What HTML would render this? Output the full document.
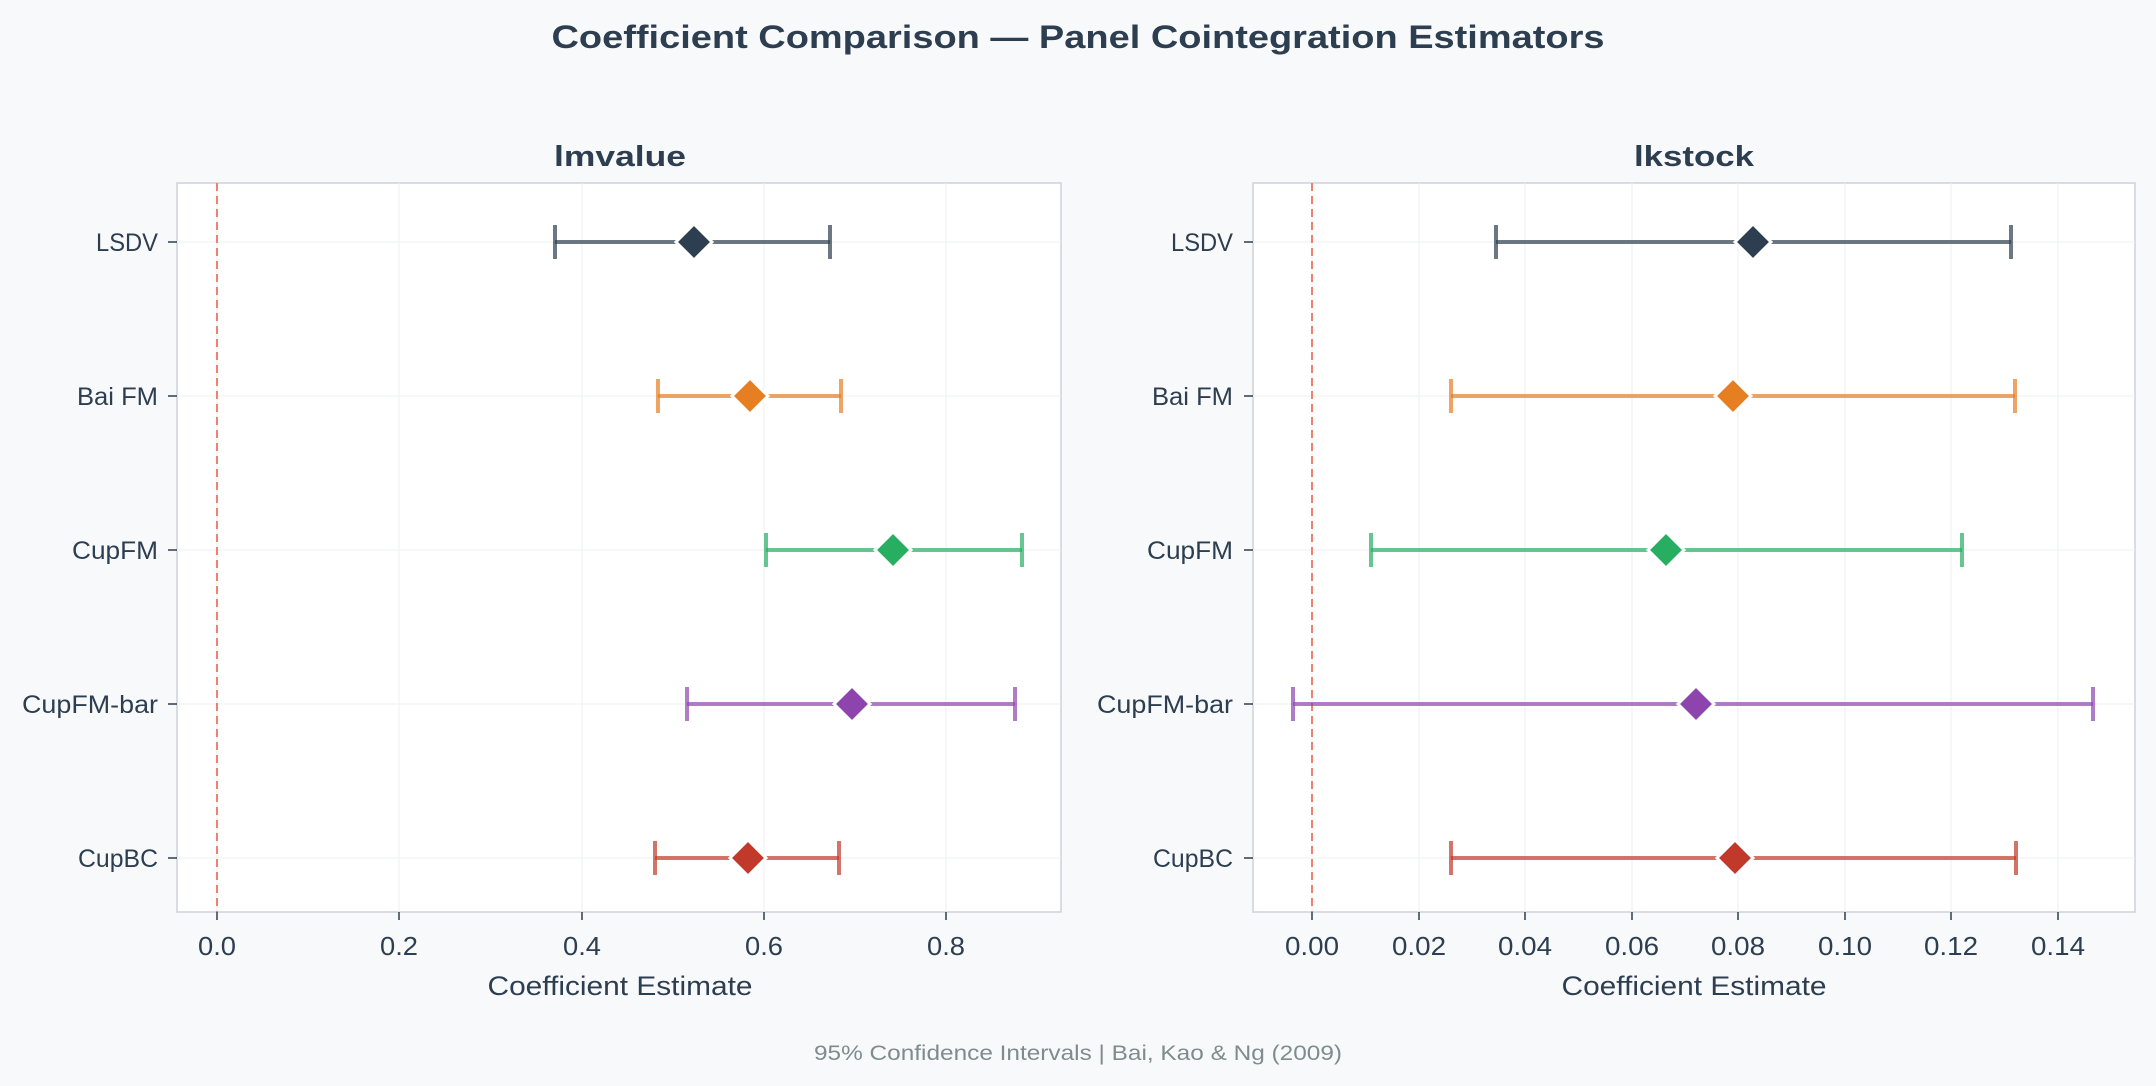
<!DOCTYPE html>
<html><head><meta charset="utf-8"><style>
html,body{margin:0;padding:0;background:#f8f9fb;}
svg{display:block;font-family:"Liberation Sans",sans-serif;}
</style></head><body>
<svg width="2156" height="1086" viewBox="0 0 2156 1086" xmlns="http://www.w3.org/2000/svg">
<rect width="2156" height="1086" fill="#f8f9fb"/>
<text x="1078" y="48" text-anchor="middle" font-size="32" font-weight="bold" fill="#2c3e50" textLength="1053" lengthAdjust="spacingAndGlyphs">Coefficient Comparison — Panel Cointegration Estimators</text>

<!-- LEFT PANEL -->
<g>
<rect x="177" y="183" width="884" height="729" fill="#ffffff" stroke="#cdd2da" stroke-width="1.5"/>
<g stroke="#eef0f2" stroke-width="1">
<line x1="217" y1="183" x2="217" y2="912"/><line x1="399" y1="183" x2="399" y2="912"/><line x1="582" y1="183" x2="582" y2="912"/><line x1="764" y1="183" x2="764" y2="912"/><line x1="946" y1="183" x2="946" y2="912"/>
<line x1="177" y1="242" x2="1061" y2="242"/><line x1="177" y1="396" x2="1061" y2="396"/><line x1="177" y1="550" x2="1061" y2="550"/><line x1="177" y1="704" x2="1061" y2="704"/><line x1="177" y1="858" x2="1061" y2="858"/>
</g>
<line x1="217" y1="183" x2="217" y2="912" stroke="#f08070" stroke-width="2" stroke-dasharray="8,5"/>
<text x="620" y="166" text-anchor="middle" font-size="29" font-weight="bold" fill="#2c3e50" textLength="132" lengthAdjust="spacingAndGlyphs">lmvalue</text>
<g font-size="25" fill="#2c3e50" text-anchor="end">
<text x="158" y="251" textLength="62" lengthAdjust="spacingAndGlyphs">LSDV</text><text x="158" y="405" textLength="81" lengthAdjust="spacingAndGlyphs">Bai FM</text><text x="158" y="559" textLength="86" lengthAdjust="spacingAndGlyphs">CupFM</text><text x="158" y="713" textLength="136" lengthAdjust="spacingAndGlyphs">CupFM-bar</text><text x="158" y="867" textLength="80" lengthAdjust="spacingAndGlyphs">CupBC</text>
</g>
<g stroke="#2c3e50" stroke-width="1.5"><line x1="168" y1="242" x2="177" y2="242"/><line x1="168" y1="396" x2="177" y2="396"/><line x1="168" y1="550" x2="177" y2="550"/><line x1="168" y1="704" x2="177" y2="704"/><line x1="168" y1="858" x2="177" y2="858"/>
<line x1="217" y1="912" x2="217" y2="920"/><line x1="399" y1="912" x2="399" y2="920"/><line x1="582" y1="912" x2="582" y2="920"/><line x1="764" y1="912" x2="764" y2="920"/><line x1="946" y1="912" x2="946" y2="920"/></g>
<g font-size="26" fill="#2c3e50" text-anchor="middle">
<text x="217" y="955" textLength="38" lengthAdjust="spacingAndGlyphs">0.0</text><text x="399" y="955" textLength="38" lengthAdjust="spacingAndGlyphs">0.2</text><text x="582" y="955" textLength="38" lengthAdjust="spacingAndGlyphs">0.4</text><text x="764" y="955" textLength="38" lengthAdjust="spacingAndGlyphs">0.6</text><text x="946" y="955" textLength="38" lengthAdjust="spacingAndGlyphs">0.8</text>
</g>
<text x="620" y="995" text-anchor="middle" font-size="27" fill="#2c3e50" textLength="265" lengthAdjust="spacingAndGlyphs">Coefficient Estimate</text>
<g stroke-width="4" stroke-opacity="0.7">
<g stroke="#2c3e50"><line x1="555" y1="242" x2="830" y2="242"/><line x1="555" y1="225" x2="555" y2="259"/><line x1="830" y1="225" x2="830" y2="259"/></g>
<g stroke="#e67e22"><line x1="658" y1="396" x2="841" y2="396"/><line x1="658" y1="379" x2="658" y2="413"/><line x1="841" y1="379" x2="841" y2="413"/></g>
<g stroke="#27ae60"><line x1="766" y1="550" x2="1022" y2="550"/><line x1="766" y1="533" x2="766" y2="567"/><line x1="1022" y1="533" x2="1022" y2="567"/></g>
<g stroke="#8e44ad"><line x1="687" y1="704" x2="1015" y2="704"/><line x1="687" y1="687" x2="687" y2="721"/><line x1="1015" y1="687" x2="1015" y2="721"/></g>
<g stroke="#c0392b"><line x1="655" y1="858" x2="839" y2="858"/><line x1="655" y1="841" x2="655" y2="875"/><line x1="839" y1="841" x2="839" y2="875"/></g>
</g>
<g stroke="#fff" stroke-width="3">
<polygon points="694,224 712,242 694,260 676,242" fill="#2c3e50"/>
<polygon points="750,378 768,396 750,414 732,396" fill="#e67e22"/>
<polygon points="893,532 911,550 893,568 875,550" fill="#27ae60"/>
<polygon points="852,686 870,704 852,722 834,704" fill="#8e44ad"/>
<polygon points="748,840 766,858 748,876 730,858" fill="#c0392b"/>
</g>
</g>

<!-- RIGHT PANEL -->
<g>
<rect x="1253" y="183" width="882" height="729" fill="#ffffff" stroke="#cdd2da" stroke-width="1.5"/>
<g stroke="#eef0f2" stroke-width="1">
<line x1="1312" y1="183" x2="1312" y2="912"/><line x1="1419" y1="183" x2="1419" y2="912"/><line x1="1525" y1="183" x2="1525" y2="912"/><line x1="1632" y1="183" x2="1632" y2="912"/><line x1="1738" y1="183" x2="1738" y2="912"/><line x1="1845" y1="183" x2="1845" y2="912"/><line x1="1951" y1="183" x2="1951" y2="912"/><line x1="2058" y1="183" x2="2058" y2="912"/>
<line x1="1253" y1="242" x2="2135" y2="242"/><line x1="1253" y1="396" x2="2135" y2="396"/><line x1="1253" y1="550" x2="2135" y2="550"/><line x1="1253" y1="704" x2="2135" y2="704"/><line x1="1253" y1="858" x2="2135" y2="858"/>
</g>
<line x1="1312" y1="183" x2="1312" y2="912" stroke="#f08070" stroke-width="2" stroke-dasharray="8,5"/>
<text x="1694" y="166" text-anchor="middle" font-size="29" font-weight="bold" fill="#2c3e50" textLength="120" lengthAdjust="spacingAndGlyphs">lkstock</text>
<g font-size="25" fill="#2c3e50" text-anchor="end">
<text x="1233" y="251" textLength="62" lengthAdjust="spacingAndGlyphs">LSDV</text><text x="1233" y="405" textLength="81" lengthAdjust="spacingAndGlyphs">Bai FM</text><text x="1233" y="559" textLength="86" lengthAdjust="spacingAndGlyphs">CupFM</text><text x="1233" y="713" textLength="136" lengthAdjust="spacingAndGlyphs">CupFM-bar</text><text x="1233" y="867" textLength="80" lengthAdjust="spacingAndGlyphs">CupBC</text>
</g>
<g stroke="#2c3e50" stroke-width="1.5"><line x1="1244" y1="242" x2="1253" y2="242"/><line x1="1244" y1="396" x2="1253" y2="396"/><line x1="1244" y1="550" x2="1253" y2="550"/><line x1="1244" y1="704" x2="1253" y2="704"/><line x1="1244" y1="858" x2="1253" y2="858"/>
<line x1="1312" y1="912" x2="1312" y2="920"/><line x1="1419" y1="912" x2="1419" y2="920"/><line x1="1525" y1="912" x2="1525" y2="920"/><line x1="1632" y1="912" x2="1632" y2="920"/><line x1="1738" y1="912" x2="1738" y2="920"/><line x1="1845" y1="912" x2="1845" y2="920"/><line x1="1951" y1="912" x2="1951" y2="920"/><line x1="2058" y1="912" x2="2058" y2="920"/></g>
<g font-size="26" fill="#2c3e50" text-anchor="middle">
<text x="1312" y="955" textLength="54" lengthAdjust="spacingAndGlyphs">0.00</text><text x="1419" y="955" textLength="54" lengthAdjust="spacingAndGlyphs">0.02</text><text x="1525" y="955" textLength="54" lengthAdjust="spacingAndGlyphs">0.04</text><text x="1632" y="955" textLength="54" lengthAdjust="spacingAndGlyphs">0.06</text><text x="1738" y="955" textLength="54" lengthAdjust="spacingAndGlyphs">0.08</text><text x="1845" y="955" textLength="54" lengthAdjust="spacingAndGlyphs">0.10</text><text x="1951" y="955" textLength="54" lengthAdjust="spacingAndGlyphs">0.12</text><text x="2058" y="955" textLength="54" lengthAdjust="spacingAndGlyphs">0.14</text>
</g>
<text x="1694" y="995" text-anchor="middle" font-size="27" fill="#2c3e50" textLength="265" lengthAdjust="spacingAndGlyphs">Coefficient Estimate</text>
<g stroke-width="4" stroke-opacity="0.7">
<g stroke="#2c3e50"><line x1="1496" y1="242" x2="2011" y2="242"/><line x1="1496" y1="225" x2="1496" y2="259"/><line x1="2011" y1="225" x2="2011" y2="259"/></g>
<g stroke="#e67e22"><line x1="1451" y1="396" x2="2015" y2="396"/><line x1="1451" y1="379" x2="1451" y2="413"/><line x1="2015" y1="379" x2="2015" y2="413"/></g>
<g stroke="#27ae60"><line x1="1371" y1="550" x2="1962" y2="550"/><line x1="1371" y1="533" x2="1371" y2="567"/><line x1="1962" y1="533" x2="1962" y2="567"/></g>
<g stroke="#8e44ad"><line x1="1293" y1="704" x2="2093" y2="704"/><line x1="1293" y1="687" x2="1293" y2="721"/><line x1="2093" y1="687" x2="2093" y2="721"/></g>
<g stroke="#c0392b"><line x1="1451" y1="858" x2="2016" y2="858"/><line x1="1451" y1="841" x2="1451" y2="875"/><line x1="2016" y1="841" x2="2016" y2="875"/></g>
</g>
<g stroke="#fff" stroke-width="3">
<polygon points="1753,224 1771,242 1753,260 1735,242" fill="#2c3e50"/>
<polygon points="1733,378 1751,396 1733,414 1715,396" fill="#e67e22"/>
<polygon points="1666,532 1684,550 1666,568 1648,550" fill="#27ae60"/>
<polygon points="1696,686 1714,704 1696,722 1678,704" fill="#8e44ad"/>
<polygon points="1735,840 1753,858 1735,876 1717,858" fill="#c0392b"/>
</g>
</g>

<text x="1078" y="1060" text-anchor="middle" font-size="21" fill="#7f8c8d" textLength="528" lengthAdjust="spacingAndGlyphs">95% Confidence Intervals | Bai, Kao &amp; Ng (2009)</text>
</svg>
</body></html>
